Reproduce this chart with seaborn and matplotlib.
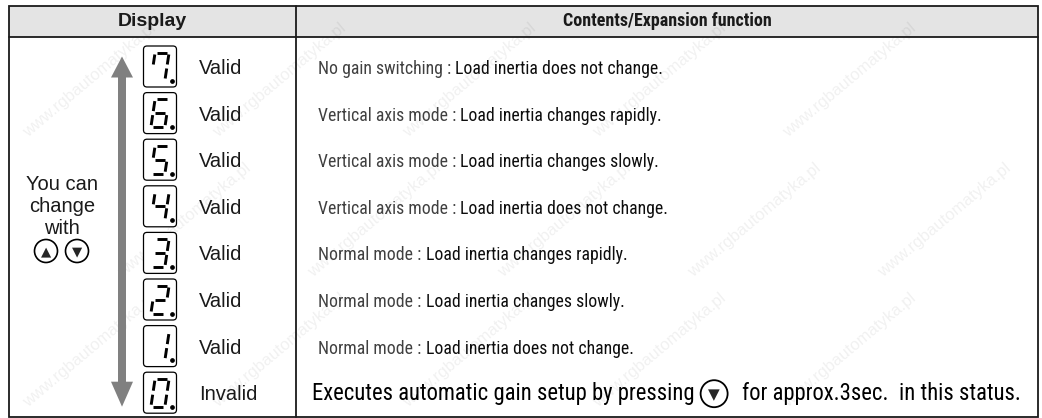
import matplotlib
matplotlib.use('Agg')
import matplotlib.pyplot as plt
import seaborn as sns
from matplotlib import font_manager
from matplotlib.patches import FancyBboxPatch, Circle, Rectangle

# table contents
headers = ['Display', 'Contents/Expansion function']
digits = [7, 6, 5, 4, 3, 2, 1, 0]
status = ['Valid', 'Valid', 'Valid', 'Valid', 'Valid', 'Valid', 'Valid', 'Invalid']
modes = ['No gain switching :', 'Vertical axis mode :', 'Vertical axis mode :', 'Vertical axis mode :',
         'Normal mode :', 'Normal mode :', 'Normal mode :']
effects = ['Load inertia does not change.', 'Load inertia changes rapidly.',
           'Load inertia changes slowly.', 'Load inertia does not change.',
           'Load inertia changes rapidly.', 'Load inertia changes slowly.',
           'Load inertia does not change.']
last_row = ['Executes automatic gain setup by pressing', 'for approx.3sec.  in this status.']
left_note = ['You can', 'change', 'with']
buttons = ['\u25B2', '\u25BC']
watermark = 'www.rgbautomatyka.pl'

# seven segment layout of the display digits
segments = {0: 'abcdef', 1: 'bc', 2: 'abged', 3: 'abcdg', 4: 'bcfg',
            5: 'acdfg', 6: 'acdefg', 7: 'abcf'}

sns.set_theme(style='white')
plt.rcParams['font.family'] = ['Liberation Sans', 'DejaVu Sans']

# look for a condensed face for the right column, like the original
names = {f.name for f in font_manager.fontManager.ttflist}
narrow, stretch = 'Liberation Sans', 'normal'
for c in ['Liberation Sans Narrow', 'Arial Narrow', 'Nimbus Sans Narrow', 'Roboto Condensed',
          'Open Sans Condensed', 'DejaVu Sans Condensed']:
    if c in names:
        narrow = c
        break
else:
    for f in font_manager.fontManager.ttflist:
        if f.stretch in ('condensed', 'semi-condensed') and f.style == 'normal':
            narrow, stretch = f.name, f.stretch
            break
is_narrow = narrow != 'Liberation Sans'

fig = plt.figure(figsize=(10.42, 4.18), dpi=100)
ax = fig.add_axes([0, 0, 1, 1])
ax.set_xlim(0, 1042)
ax.set_ylim(418, 0)
ax.axis('off')
rend = fig.canvas.get_renderer()


def width(s, size, weight='normal'):
    t = ax.text(0, 0, s, fontsize=size, family=narrow, fontstretch=stretch, weight=weight)
    w = t.get_window_extent(rend).width
    t.remove()
    return w


def ntext(x, y, s, size, **kw):
    return ax.text(x, y, s, fontsize=size, family=narrow, fontstretch=stretch, zorder=6, **kw)


# frame
L, R, T, B = 8.5, 1038, 5.5, 416.5
HB, COL = 37, 296
ax.add_patch(Rectangle((L, T), R - L, HB - T, fc='#e4e4e4', ec='none', zorder=1))
ax.add_patch(Rectangle((L, T), R - L, B - T, fill=False, ec='#1a1a1a', lw=1.3, zorder=5))
ax.plot([L, R], [HB, HB], color='#1a1a1a', lw=1.3, zorder=5)
ax.plot([COL, COL], [T, B], color='#1a1a1a', lw=1.3, zorder=5)

# faint watermark
for j, yc in enumerate([80, 220, 350]):
    for xc in range(90 + 95 * (j % 2), 980, 190):
        ax.text(xc, yc, watermark, rotation=40, fontsize=12, color='black', alpha=0.06,
                ha='center', va='center', zorder=2)

# header
ax.text((L + COL) / 2, 21.5, headers[0], fontsize=14, weight='bold', ha='center', va='center',
        color='#1a1a1a', zorder=6)
hsize = 13 if is_narrow else 12
ntext((COL + R) / 2, 21.5, headers[1], hsize, weight='bold', ha='center', va='center', color='#1a1a1a')

y0, pitch = 66.5, 46.6
cx = 160

# up/down arrow
ac = '#808080'
ytop, ybot = y0 - 10, y0 + 7 * pitch + 14
ax.fill([118, 126, 126, 118], [ytop + 20, ytop + 20, ybot - 24, ybot - 24], color=ac, lw=0, zorder=3)
ax.fill([111, 133, 122], [ytop + 21, ytop + 21, ytop], color=ac, lw=0, zorder=3)
ax.fill([111, 133, 122], [ybot - 25, ybot - 25, ybot], color=ac, lw=0, zorder=3)


def draw_digit(xc, yc, d):
    x0, x1, ht, g, sl = -7, 7, 14, 2.0, 0.15
    segs = {'a': ((x0 + g, -ht), (x1 - g, -ht)), 'b': ((x1, -ht + g), (x1, -g)),
            'c': ((x1, g), (x1, ht - g)), 'd': ((x0 + g, ht), (x1 - g, ht)),
            'e': ((x0, g), (x0, ht - g)), 'f': ((x0, -ht + g), (x0, -g)),
            'g': ((x0 + g, 0), (x1 - g, 0))}
    for s in segments[d]:
        (xa, ya), (xb, yb) = segs[s]
        ax.plot([xc + xa - sl * ya, xc + xb - sl * yb], [yc + ya, yc + yb],
                color='black', lw=2.1, solid_capstyle='butt', zorder=6)
    ax.plot(xc + 11.5, yc + ht, marker='o', ms=2.4, color='black', zorder=6)


rsize = 20 * 344 / width(modes[0] + ' ' + effects[0], 20)
if not is_narrow:
    rsize *= 1.1
for i, d in enumerate(digits):
    yc = y0 + i * pitch
    ax.add_patch(FancyBboxPatch((cx - 16.5, yc - 20.5), 33, 41,
                                boxstyle='round,pad=0,rounding_size=3.5',
                                fc='white', ec='black', lw=0.9, zorder=4))
    draw_digit(cx, yc, d)
    ax.text(199, yc + 7.5, status[i], fontsize=14.5, va='baseline', ha='left',
            color='#1a1a1a', zorder=6)
    if i < len(modes):
        wf = width(modes[i] + ' ' + effects[i], rsize)
        ntext(318, yc + 7.5, modes[i], rsize, va='baseline', color='#404040')
        ntext(318 + wf, yc + 7.5, effects[i], rsize, va='baseline', ha='right', color='#0d0d0d')

# last row with the down button
yc = y0 + 7 * pitch
r, g1, g2 = 13.5, 6, 14
lsize = 20 * (1020 - 312 - 2 * r - g1 - g2) / (width(last_row[0], 20) + width(last_row[1], 20))
if not is_narrow:
    lsize *= 0.97
w1 = width(last_row[0], lsize)
ntext(312, yc + 7, last_row[0], lsize, va='baseline', color='black')
bx = 312 + w1 + g1 + r
ax.add_patch(Circle((bx, yc + 1), r, fill=False, ec='black', lw=1.3, zorder=6))
ax.text(bx, yc + 1.5, buttons[1], fontsize=11, family='DejaVu Sans', ha='center', va='center', zorder=6)
ntext(bx + r + g2, yc + 7, last_row[1], lsize, va='baseline', color='black')

# left note
for k, s in enumerate(left_note):
    ax.text(62, 184 + 22.5 * k, s, fontsize=14.5, ha='center', va='center', color='#1a1a1a', zorder=6)
for k, s in enumerate(buttons):
    bx = 46 + 31 * k
    ax.add_patch(Circle((bx, 251), 11.5, fill=False, ec='black', lw=1.2, zorder=6))
    ax.text(bx, 251.5, s, fontsize=9.5, family='DejaVu Sans', ha='center', va='center', zorder=6)

fig.savefig('out.png', dpi=100)
